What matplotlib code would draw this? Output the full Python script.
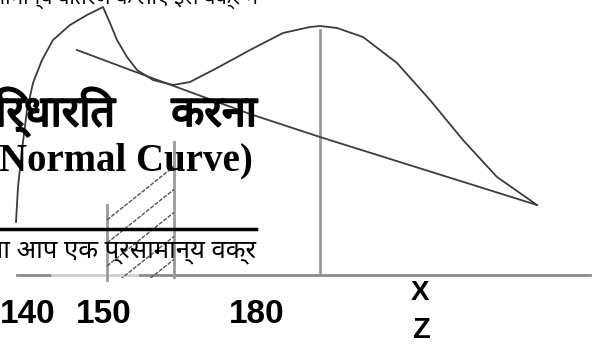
import matplotlib.pyplot as plt
import matplotlib.patheffects as pe
from matplotlib.patches import Rectangle

# sketch of the skewed curve (page pixel coords, y down)
curve_x = [16, 18, 22, 27, 33, 42, 53, 70, 87, 103, 110, 117, 127, 137, 153, 173,
           190, 217, 250, 283, 310, 320, 337, 363, 397, 430, 463, 497, 537]
curve_y = [222, 187, 150, 110, 83, 60, 40, 25, 15, 7, 23, 40, 57, 70, 80, 85,
           82, 68, 50, 33, 27, 26, 28, 37, 63, 100, 140, 177, 205]

# the straight-ish chord
chord_x = [77, 133, 250, 320, 537]
chord_y = [50, 71, 114, 137, 205]

# hatch lines (start at left edge, slope up-right)
hatch_y0 = [220, 243, 266, 290, 313]
hatch_x = [107, 174]

tick_labels = ["140", "150", "180"]
tick_pos = [27.5, 103.5, 257]

hindi = ['Noto Sans Devanagari', 'Lohit Devanagari', 'FreeSerif', 'Noto Sans', 'DejaVu Sans']
bold = [pe.withStroke(linewidth=1.4, foreground='black')]

fig = plt.figure(figsize=(5.99, 3.47), dpi=100)
ax = fig.add_axes([0, 0, 1, 1])
ax.set_xlim(0, 599)
ax.set_ylim(347, 0)
ax.axis('off')

# base line, mean line and the two ordinates of the shaded strip
ax.plot([17, 52], [275, 275], color='#8a8a8a', lw=2)
ax.plot([52, 140], [275, 275], color='#d0d0d0', lw=2)
ax.plot([140, 590], [275, 275], color='#8a8a8a', lw=2)
ax.plot([320, 320], [30, 272], color='#9a9a9a', lw=2)
ax.plot([107, 107], [205, 280], color='#9a9a9a', lw=2)
ax.plot([174, 174], [142, 277], color='#9a9a9a', lw=2)

clip = Rectangle((107, 142), 67, 136, transform=ax.transData)
for y0 in hatch_y0:
    ln, = ax.plot(hatch_x, [y0, y0 - 0.8 * (hatch_x[1] - hatch_x[0])],
                  color='#555555', lw=1, ls=(0, (3, 1)))
    ln.set_clip_path(clip)

ax.plot(curve_x, curve_y, color='#3c3c3c', lw=1.3)
ax.plot(chord_x, chord_y, color='#3c3c3c', lw=1.3)

# page text behind the drawing
ax.text(258, 4, "सामान्य वितरण के लिए इस वक्र में", family=hindi, fontsize=15,
        ha='right', va='baseline')
ax.text(115, 126, "निर्धारित", family=hindi, fontsize=31, fontweight='bold',
        ha='right', va='baseline', path_effects=bold)
ax.text(257, 126, "करना", family=hindi, fontsize=31, fontweight='bold',
        ha='right', va='baseline', path_effects=bold)
ax.text(253, 170, "(Normal Curve)", family='Liberation Serif', fontsize=28,
        fontweight='bold', ha='right', va='baseline')
ax.plot([0, 256], [229, 229], color='black', lw=2.5)
ax.text(256, 257, "ना आप एक प्रसामान्य वक्र", family=hindi, fontsize=18.5,
        ha='right', va='baseline')

for lab, x in zip(tick_labels, tick_pos):
    ax.text(x, 323, lab, family='Liberation Sans', fontsize=24, fontweight='bold',
            ha='center', va='baseline')
ax.text(420, 293, "X", family='Liberation Sans', fontsize=20, fontweight='bold',
        ha='center', va='center')
ax.text(421, 330, "Z", family='Liberation Sans', fontsize=21, fontweight='bold',
        ha='center', va='center')

fig.savefig('out.png', dpi=100)
